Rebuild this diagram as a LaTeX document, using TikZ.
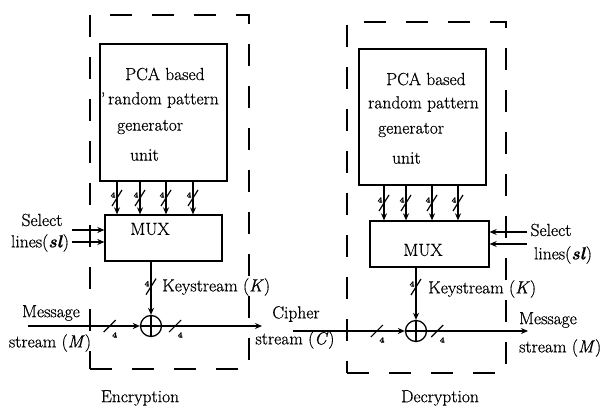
\documentclass[tikz,border=0pt]{standalone}
\usepackage{fontspec}
\setmainfont{Latin Modern Roman}[FakeBold=0.6]
\newcommand{\vi}[1]{{\itshape #1\/}}
\usetikzlibrary{arrows.meta}
\begin{document}
\begin{tikzpicture}[x=1pt,y=-1pt,
  font=\fontsize{17.5}{20}\selectfont,
  dashbox/.style={draw, line width=1.3pt, dash pattern=on 22pt off 20pt, inner sep=0pt},
  blockbox/.style={draw, line width=1.3pt, inner sep=0pt},
  arr/.style={line width=1.4pt, -{Stealth[length=7pt,width=6pt]}},
  slashline/.style={line width=1.2pt},
  bits/.style={font=\fontsize{8}{9}\selectfont\bfseries, inner sep=0pt},
  xorc/.style={draw, circle, line width=1.3pt, minimum size=21pt, inner sep=0pt,
    path picture={\draw[line width=1.2pt] (path picture bounding box.north) -- (path picture bounding box.south)
      (path picture bounding box.west) -- (path picture bounding box.east);}},
  txt/.style={inner sep=0pt},
  caption/.style={inner sep=0pt, font=\fontsize{17.5}{20}\selectfont}]
\useasboundingbox (0,0) rectangle (603,409);

% ---------------- Encryption ----------------
\node[dashbox, minimum width=159pt, minimum height=354pt] (encbox) at (169.5,192) {};
\node[blockbox, minimum width=127pt, minimum height=137pt] (pca1) at (163.5,112.5) {};
\node[txt, anchor=west] (p1a) at (125,74) {PCA based};
\node[txt, anchor=west] (p1b) at (108,100) {\llap{'\,}random pattern};
\node[txt, anchor=west] (p1c) at (117,127) {generator};
\node[txt, anchor=west] (p1d) at (130,155) {unit};
\node[blockbox, minimum width=117pt, minimum height=46pt] (mux1) at (163.5,238) {};
\node[txt] (mux1t) at (150,229) {MUX};

\foreach \i/\x in {1/117,2/140,3/166,4/193}{
  \coordinate (ec\i) at (\x,0);
  \draw[arr] (pca1.south -| ec\i) -- coordinate[pos=0.5] (es\i) (mux1.north -| ec\i);
  \draw[slashline] ([shift={(-5,8)}]es\i) -- ([shift={(5,-8)}]es\i);
  \node[bits] at ([shift={(-4,-3)}]es\i) {4};
}

\node[txt] (sel1) at (42,220) {Select};
\node[txt] (lin1) at (40,243) {lines(\textbf{\textit{sl}})};
\coordinate (sa1) at (72,230);
\coordinate (sb1) at (72,242);
\draw[arr] (sa1) -- (sa1 -| mux1.west);
\draw[arr] (sb1) -- (sb1 -| mux1.west);

\node[xorc] (xor1) at (151,326) {};
\draw[arr] (mux1.south -| xor1) -- coordinate[pos=0.47] (ks1) (xor1.north);
\draw[slashline] ([shift={(-5,8)}]ks1) -- ([shift={(5,-8)}]ks1);
\node[bits] at ([shift={(-4,-3)}]ks1) {4};
\node[txt, anchor=west] (kt1) at (162,287) {Keystream (\vi{K})};

\coordinate (min1) at (28,326);
\draw[arr] (min1) -- coordinate[pos=0.73] (ms1) (xor1.west);
\draw[slashline] ([shift={(-6,6)}]ms1) -- ([shift={(6,-6)}]ms1);
\node[bits] at ([shift={(5,9)}]ms1) {4};
\coordinate (cout1) at (262,326);
\draw[arr] (xor1.east) -- coordinate[pos=0.13] (os1) (cout1);
\draw[slashline] ([shift={(-6,6)}]os1) -- ([shift={(6,-6)}]os1);
\node[bits] at ([shift={(5,9)}]os1) {4};

\node[txt] (msg1) at (51,313) {Message};
\node[txt] (str1) at (50,343) {stream (\vi{M})};
\node[caption] (enc) at (140,398) {Encryption};

% ---------------- Decryption ----------------
\node[txt] (ciph) at (296,314) {Cipher};
\node[txt] (strc) at (295,340) {stream (\vi{C})};

\node[dashbox, minimum width=159pt, minimum height=351pt] (decbox) at (426.5,197.5) {};
\node[blockbox, minimum width=127pt, minimum height=136pt] (pca2) at (422.5,117) {};
\node[txt, anchor=west] (p2a) at (386,79) {PCA based};
\node[txt, anchor=west] (p2b) at (368,104) {random pattern};
\node[txt, anchor=west] (p2c) at (378,130) {generator};
\node[txt, anchor=west] (p2d) at (392,158) {unit};
\node[blockbox, minimum width=119pt, minimum height=46pt] (mux2) at (429.5,244) {};
\node[txt] (mux2t) at (423,250) {MUX};

\foreach \i/\x in {1/384,2/406,3/432,4/458}{
  \coordinate (dc\i) at (\x,0);
  \draw[arr] (pca2.south -| dc\i) -- coordinate[pos=0.5] (ds\i) (mux2.north -| dc\i);
  \draw[slashline] ([shift={(-5,8)}]ds\i) -- ([shift={(5,-8)}]ds\i);
  \node[bits] at ([shift={(-4,-3)}]ds\i) {4};
}

\node[txt] (sel2) at (551,230) {Select};
\node[txt] (lin2) at (563,255) {lines(\textbf{\textit{sl}})};
\coordinate (sa2) at (527,232);
\coordinate (sb2) at (527,244);
\draw[arr] (sa2) -- (sa2 -| mux2.east);
\draw[arr] (sb2) -- (sb2 -| mux2.east);

\node[xorc] (xor2) at (416,331) {};
\draw[arr] (mux2.south -| xor2) -- coordinate[pos=0.37] (ks2) (xor2.north);
\draw[slashline] ([shift={(-5,8)}]ks2) -- ([shift={(5,-8)}]ks2);
\node[bits] at ([shift={(-4,-3)}]ks2) {4};
\node[txt, anchor=west] (kt2) at (428,289) {Keystream (\vi{K})};

\coordinate (cin2) at (293,331);
\draw[arr] (cin2) -- coordinate[pos=0.75] (cs2) (xor2.west);
\draw[slashline] ([shift={(-6,6)}]cs2) -- ([shift={(6,-6)}]cs2);
\node[bits] at ([shift={(5,9)}]cs2) {4};
\coordinate (mout2) at (528,331);
\draw[arr] (xor2.east) -- coordinate[pos=0.1] (os2) (mout2);
\draw[slashline] ([shift={(-6,6)}]os2) -- ([shift={(6,-6)}]os2);
\node[bits] at ([shift={(5,9)}]os2) {4};

\node[txt] (msg2) at (548,320) {Message};
\node[txt, anchor=west] (str2) at (519,348) {stream (\vi{M})};
\node[caption] (dec) at (440,398) {Decryption};
\end{tikzpicture}
\end{document}
